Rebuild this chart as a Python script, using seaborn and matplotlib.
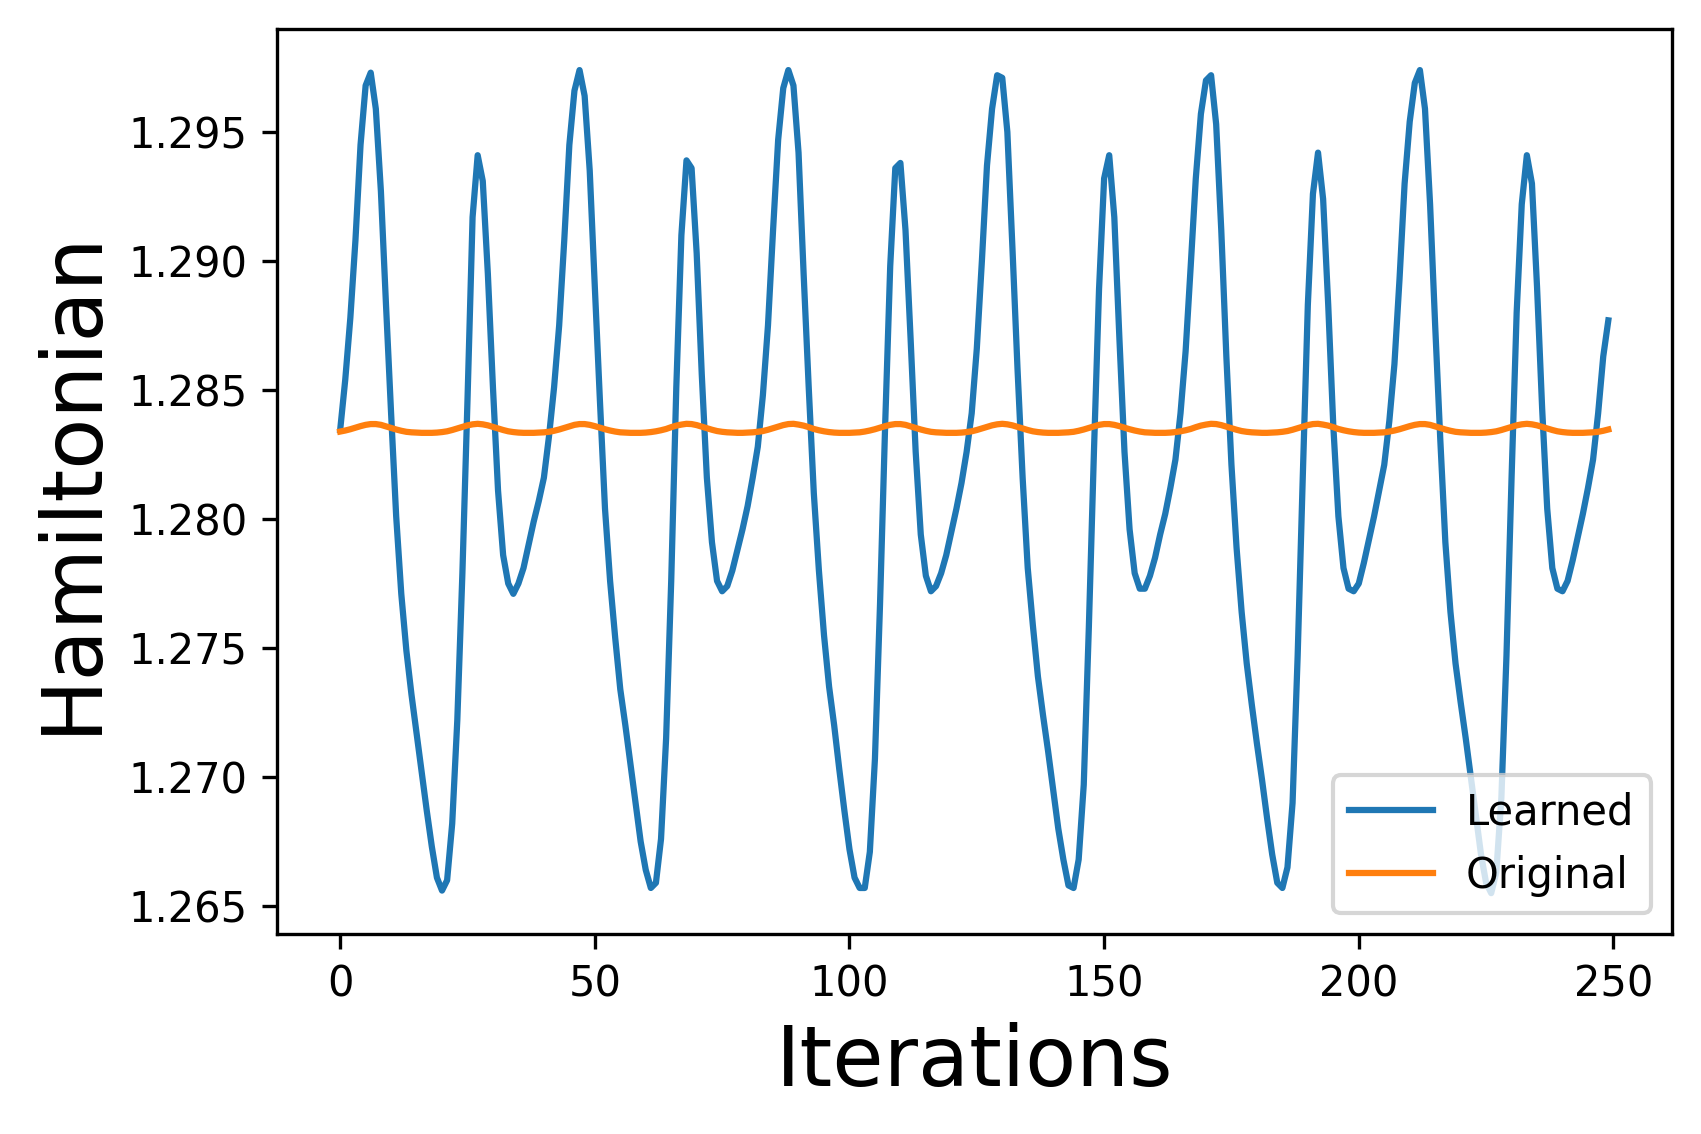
import numpy as np
import pandas as pd
import seaborn as sns
import matplotlib
matplotlib.use("Agg")
import matplotlib.pyplot as plt

# values, one per iteration (0..249)
learned = [
    1.28345, 1.2854, 1.2878, 1.2908, 1.2945, 1.2968, 1.2973, 1.2959, 1.2927, 1.2883,
    1.2841, 1.2801, 1.2771, 1.2749, 1.2732, 1.2717, 1.2702, 1.2687, 1.2673, 1.2661,
    1.2656, 1.2660, 1.2682, 1.2722, 1.2779, 1.2846, 1.2917, 1.2941, 1.2931, 1.2895,
    1.2851, 1.2811, 1.2786, 1.2775, 1.2771, 1.2775, 1.2781, 1.2790, 1.2799, 1.2807,
    1.2816, 1.2832, 1.2851, 1.2875, 1.2908, 1.2945, 1.2966, 1.2974, 1.2964, 1.2935,
    1.2890, 1.2846, 1.2804, 1.2776, 1.2754, 1.2734, 1.2720, 1.2705, 1.2690, 1.2675,
    1.2664, 1.2657, 1.2659, 1.2676, 1.2715, 1.2776, 1.2851, 1.2910, 1.2939, 1.2936,
    1.2903, 1.2856, 1.2816, 1.2791, 1.2776, 1.2772, 1.2774, 1.2780, 1.2788, 1.2796,
    1.2805, 1.2816, 1.2828, 1.2848, 1.2875, 1.2912, 1.2947, 1.2967, 1.2974, 1.2968,
    1.2942, 1.2895, 1.2851, 1.2810, 1.2780, 1.2755, 1.2735, 1.2720, 1.2703, 1.2687,
    1.2672, 1.2661, 1.2657, 1.2657, 1.2671, 1.2707, 1.2767, 1.2836, 1.2898, 1.2936,
    1.2938, 1.2912, 1.2870, 1.2826, 1.2794, 1.2778, 1.2772, 1.2774, 1.2779, 1.2786,
    1.2795, 1.2804, 1.2814, 1.2826, 1.2841, 1.2866, 1.2900, 1.2937, 1.2959, 1.2972,
    1.2971, 1.2950, 1.2905, 1.2858, 1.2816, 1.2781, 1.2759, 1.2739, 1.2724, 1.2710,
    1.2695, 1.2680, 1.2668, 1.2658, 1.2657, 1.2668, 1.2697, 1.2758, 1.2826, 1.2889,
    1.2932, 1.2941, 1.2917, 1.2870, 1.2826, 1.2796, 1.2779, 1.2773, 1.2773, 1.2778,
    1.2785, 1.2794, 1.2802, 1.2812, 1.2823, 1.2841, 1.2865, 1.2898, 1.2932, 1.2957,
    1.2970, 1.2972, 1.2953, 1.2912, 1.2863, 1.2821, 1.2789, 1.2764, 1.2744, 1.2728,
    1.2713, 1.2699, 1.2684, 1.2670, 1.2659, 1.2657, 1.2665, 1.2690, 1.2747, 1.2816,
    1.2883, 1.2926, 1.2942, 1.2924, 1.2883, 1.2836, 1.2801, 1.2781, 1.2773, 1.2772,
    1.2775, 1.2783, 1.2792, 1.2801, 1.2811, 1.2821, 1.2838, 1.2860, 1.2893, 1.2930,
    1.2954, 1.2969, 1.2974, 1.2959, 1.2922, 1.2875, 1.2831, 1.2791, 1.2764, 1.2744,
    1.2729, 1.2715, 1.2700, 1.2685, 1.2670, 1.2659, 1.2655, 1.2663, 1.2692, 1.2747,
    1.2816, 1.2880, 1.2922, 1.2941, 1.2930, 1.2890, 1.2843, 1.2804, 1.2781, 1.2773,
    1.2772, 1.2776, 1.2784, 1.2793, 1.2802, 1.2812, 1.2823, 1.2841, 1.2863, 1.2877,
]

original = [
    1.28339, 1.28343, 1.28348, 1.28354, 1.28360, 1.28365, 1.28368, 1.28368, 1.28365, 1.28359,
    1.28353, 1.28347, 1.28342, 1.28338, 1.28336, 1.28335, 1.28334, 1.28334, 1.28334, 1.28335,
    1.28337, 1.28340, 1.28345, 1.28351, 1.28357, 1.28363, 1.28367, 1.28369, 1.28367, 1.28363,
    1.28357, 1.28351, 1.28345, 1.28340, 1.28337, 1.28335, 1.28334, 1.28334, 1.28334, 1.28335,
    1.28336, 1.28338, 1.28342, 1.28347, 1.28353, 1.28359, 1.28365, 1.28368, 1.28368, 1.28365,
    1.28360, 1.28354, 1.28348, 1.28343, 1.28339, 1.28336, 1.28335, 1.28334, 1.28334, 1.28334,
    1.28335, 1.28337, 1.28340, 1.28344, 1.28349, 1.28356, 1.28362, 1.28366, 1.28369, 1.28368,
    1.28364, 1.28358, 1.28352, 1.28346, 1.28341, 1.28338, 1.28336, 1.28335, 1.28334, 1.28334,
    1.28335, 1.28336, 1.28338, 1.28341, 1.28346, 1.28352, 1.28358, 1.28364, 1.28368, 1.28369,
    1.28366, 1.28362, 1.28356, 1.28349, 1.28344, 1.28340, 1.28337, 1.28335, 1.28334, 1.28334,
    1.28334, 1.28335, 1.28336, 1.28339, 1.28343, 1.28348, 1.28354, 1.28360, 1.28365, 1.28368,
    1.28368, 1.28365, 1.28359, 1.28353, 1.28347, 1.28342, 1.28338, 1.28336, 1.28335, 1.28334,
    1.28334, 1.28334, 1.28335, 1.28337, 1.28340, 1.28345, 1.28351, 1.28357, 1.28363, 1.28367,
    1.28369, 1.28367, 1.28363, 1.28357, 1.28351, 1.28345, 1.28340, 1.28337, 1.28335, 1.28334,
    1.28334, 1.28334, 1.28335, 1.28336, 1.28338, 1.28342, 1.28347, 1.28353, 1.28359, 1.28365,
    1.28368, 1.28368, 1.28365, 1.28360, 1.28354, 1.28348, 1.28343, 1.28339, 1.28336, 1.28335,
    1.28334, 1.28334, 1.28334, 1.28335, 1.28337, 1.28340, 1.28344, 1.28349, 1.28356, 1.28362,
    1.28366, 1.28369, 1.28368, 1.28364, 1.28358, 1.28352, 1.28346, 1.28341, 1.28338, 1.28336,
    1.28335, 1.28334, 1.28334, 1.28335, 1.28336, 1.28338, 1.28341, 1.28346, 1.28352, 1.28358,
    1.28364, 1.28368, 1.28369, 1.28366, 1.28362, 1.28356, 1.28349, 1.28344, 1.28340, 1.28337,
    1.28335, 1.28334, 1.28334, 1.28334, 1.28335, 1.28336, 1.28339, 1.28343, 1.28348, 1.28354,
    1.28360, 1.28365, 1.28368, 1.28368, 1.28365, 1.28359, 1.28353, 1.28347, 1.28342, 1.28338,
    1.28336, 1.28335, 1.28334, 1.28334, 1.28334, 1.28335, 1.28337, 1.28340, 1.28345, 1.28351,
    1.28357, 1.28363, 1.28367, 1.28369, 1.28367, 1.28363, 1.28357, 1.28351, 1.28345, 1.28340,
    1.28337, 1.28335, 1.28334, 1.28334, 1.28334, 1.28335, 1.28336, 1.28338, 1.28342, 1.28347,
]

series_names = ["Learned", "Original"]
line_colors = ["#1f77b4", "#ff7f0e"]

iterations = np.arange(len(learned))

df = pd.concat([
    pd.DataFrame({"Iterations": iterations, "Hamiltonian": learned, "series": series_names[0]}),
    pd.DataFrame({"Iterations": iterations, "Hamiltonian": original, "series": series_names[1]}),
])

fig = plt.figure(figsize=(5.67, 3.78), dpi=300)
ax = fig.add_axes([0.1627, 0.1761, 0.8201, 0.7984])

sns.lineplot(data=df, x="Iterations", y="Hamiltonian", hue="series",
             palette=line_colors, linewidth=1.5, ax=ax)

ax.set_xlabel("Iterations", fontsize=20)
ax.set_ylabel("Hamiltonian", fontsize=20)
ax.yaxis.set_major_formatter(matplotlib.ticker.FormatStrFormatter("%.3f"))
sns.move_legend(ax, "lower right", title=None, fontsize=10)

fig.savefig("out.png", dpi=300)
